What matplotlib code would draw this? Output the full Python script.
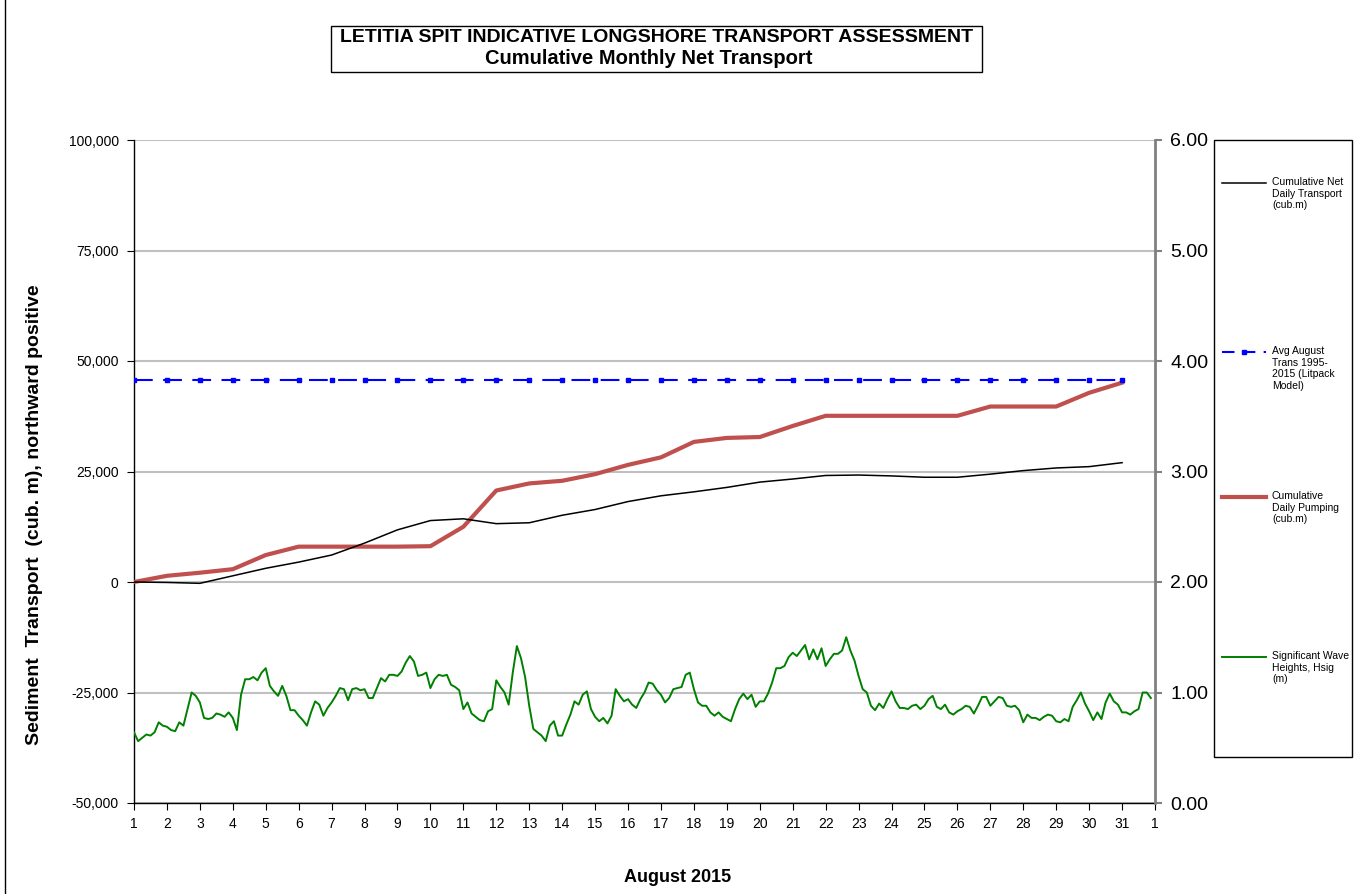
import numpy as np
import matplotlib
matplotlib.use("Agg")
import matplotlib.pyplot as plt
from matplotlib.patches import Rectangle
from matplotlib.ticker import FuncFormatter

plt.rcParams['font.family'] = ['Liberation Sans', 'DejaVu Sans']

# daily values, 1..31 August 2015
days = list(range(1, 32))
net_transport = [0, -100, -300, 1400, 3100, 4500, 6100, 8800, 11800, 13900,
                 14300, 13200, 13400, 15100, 16400, 18200, 19500, 20400, 21400, 22600,
                 23300, 24100, 24200, 24000, 23700, 23700, 24400, 25200, 25800, 26100,
                 27000]
pumping = [0, 1400, 2100, 2900, 6100, 8000, 8000, 8000, 8000, 8100,
           12500, 20700, 22300, 22900, 24400, 26500, 28200, 31700, 32600, 32800,
           35300, 37600, 37600, 37600, 37600, 37600, 39700, 39700, 39700, 42800,
           45100]
avg_august = [45700] * 31

# significant wave height (m), 3-hourly from 1 Aug 00:00
hsig_step_hours = 3
hsig = [0.64, 0.56, 0.59, 0.62, 0.61, 0.64, 0.73, 0.70, 0.69, 0.66,
        0.65, 0.73, 0.70, 0.85, 1.00, 0.97, 0.91, 0.77, 0.76, 0.77,
        0.81, 0.80, 0.78, 0.82, 0.77, 0.66, 0.98, 1.12, 1.12, 1.14,
        1.11, 1.18, 1.22, 1.06, 1.01, 0.97, 1.06, 0.97, 0.84, 0.84,
        0.79, 0.75, 0.70, 0.82, 0.92, 0.89, 0.79, 0.86, 0.91, 0.97,
        1.04, 1.03, 0.93, 1.03, 1.04, 1.02, 1.03, 0.95, 0.95, 1.04,
        1.13, 1.10, 1.16, 1.16, 1.15, 1.19, 1.27, 1.33, 1.28, 1.15,
        1.16, 1.18, 1.04, 1.12, 1.16, 1.15, 1.16, 1.07, 1.05, 1.02,
        0.85, 0.91, 0.81, 0.78, 0.75, 0.74, 0.83, 0.85, 1.11, 1.05,
        1.00, 0.89, 1.18, 1.42, 1.31, 1.14, 0.88, 0.67, 0.64, 0.61,
        0.56, 0.70, 0.74, 0.61, 0.61, 0.71, 0.80, 0.92, 0.89, 0.98,
        1.01, 0.85, 0.78, 0.74, 0.77, 0.72, 0.79, 1.03, 0.97, 0.92,
        0.94, 0.89, 0.86, 0.94, 1.00, 1.09, 1.08, 1.02, 0.98, 0.91,
        0.95, 1.03, 1.04, 1.05, 1.16, 1.18, 1.03, 0.91, 0.88, 0.88,
        0.82, 0.79, 0.82, 0.78, 0.76, 0.74, 0.85, 0.94, 0.99, 0.94,
        0.98, 0.87, 0.92, 0.92, 0.99, 1.09, 1.22, 1.22, 1.24, 1.32,
        1.36, 1.33, 1.38, 1.43, 1.30, 1.39, 1.30, 1.40, 1.24, 1.30,
        1.35, 1.35, 1.38, 1.50, 1.38, 1.29, 1.15, 1.03, 1.00, 0.88,
        0.84, 0.90, 0.86, 0.94, 1.01, 0.92, 0.86, 0.86, 0.85, 0.88,
        0.89, 0.85, 0.88, 0.94, 0.97, 0.87, 0.85, 0.89, 0.82, 0.80,
        0.83, 0.85, 0.88, 0.87, 0.81, 0.88, 0.96, 0.96, 0.88, 0.92,
        0.96, 0.95, 0.88, 0.87, 0.88, 0.84, 0.73, 0.80, 0.77, 0.77,
        0.75, 0.78, 0.80, 0.79, 0.74, 0.73, 0.76, 0.74, 0.87, 0.93,
        1.00, 0.90, 0.83, 0.75, 0.82, 0.76, 0.91, 0.99, 0.92, 0.89,
        0.82, 0.82, 0.80, 0.83, 0.85, 1.00, 1.00, 0.95]

x_labels = [str(d) for d in range(1, 32)] + ['1']
legend_labels = ['Cumulative Net\nDaily Transport\n(cub.m)',
                 'Avg August\nTrans 1995-\n2015 (Litpack\nModel)',
                 'Cumulative\nDaily Pumping\n(cub.m)',
                 'Significant Wave\nHeights, Hsig\n(m)']

W, H = 1358, 894
fig = plt.figure(figsize=(W / 100, H / 100), dpi=100)
ax = fig.add_axes([134 / W, 1 - 803 / H, (1155 - 134) / W, (803 - 140) / H])
ax2 = ax.twinx()

red = '#c0504d'
green = '#008000'
ax.plot(days, pumping, color=red, lw=3, zorder=3)
ax.plot(days, net_transport, color='black', lw=1.1, zorder=4)
ax.plot(days, avg_august, color='blue', lw=1.5, dashes=(9, 5), marker='s', ms=3.2, zorder=5)
t_hsig = 1 + np.arange(len(hsig)) * hsig_step_hours / 24
ax2.plot(t_hsig, hsig, color=green, lw=1.4)

ax.set_xlim(1, 32)
ax.set_ylim(-50000, 100000)
ax2.set_ylim(0, 6)
ax.set_yticks(np.arange(-50000, 100001, 25000))
ax.yaxis.set_major_formatter(FuncFormatter(lambda v, p: f'{v:,.0f}'))
ax2.set_yticks(np.arange(0, 7))
ax2.yaxis.set_major_formatter(FuncFormatter(lambda v, p: f'{v:.2f}'))
ax.set_xticks(range(1, 33))
ax.set_xticklabels(x_labels)

ax.grid(axis='y', color='#c0c0c0', lw=1.5)
ax.set_axisbelow(True)
for a in (ax, ax2):
    a.spines['top'].set_visible(False)
ax.spines['right'].set_visible(False)
ax2.spines['left'].set_visible(False)
ax2.spines['bottom'].set_visible(False)
ax2.spines['right'].set_color('#808080')
ax2.spines['right'].set_linewidth(2)
ax.spines['left'].set_linewidth(1)
ax.spines['bottom'].set_linewidth(1)

ax.tick_params(axis='y', direction='out', length=5, labelsize=10, pad=6)
ax.tick_params(axis='x', direction='out', length=5, labelsize=10, pad=5)
ax2.tick_params(axis='y', direction='out', length=5, color='#808080', width=1.5,
                labelsize=14, pad=6)

# overlay in pixel coordinates for titles, legend and frame
ov = fig.add_axes([0, 0, 1, 1], zorder=-1)
ov.set_xlim(0, W)
ov.set_ylim(H, 0)
ov.axis('off')

ov.plot([5, 5], [0, H], color='black', lw=1)
ov.add_patch(Rectangle((331, 26), 651, 46, fill=False, ec='black', lw=1))
ov.text(657, 38, 'LETITIA SPIT INDICATIVE LONGSHORE TRANSPORT ASSESSMENT',
        ha='center', va='center', fontsize=14, fontweight='bold')
ov.text(649, 59, 'Cumulative Monthly Net Transport',
        ha='center', va='center', fontsize=14.5, fontweight='bold')

ov.text(35, 515, 'Sediment  Transport  (cub. m), northward positive', rotation=90,
        ha='center', va='center', fontsize=14, fontweight='bold')
ov.text(678, 878, 'August 2015', ha='center', va='center', fontsize=13, fontweight='bold')

ov.add_patch(Rectangle((1214, 140), 138, 617, fill=False, ec='black', lw=1))
leg_y = [183, 352, 497, 657]
ov.plot([1222, 1266], [leg_y[0]] * 2, color='black', lw=1.1)
ov.plot([1222, 1266], [leg_y[1]] * 2, color='blue', lw=1.5, dashes=(6, 4))
ov.plot([1244], [leg_y[1]], color='blue', marker='s', ms=3.2)
ov.plot([1222, 1266], [leg_y[2]] * 2, color=red, lw=3)
ov.plot([1222, 1266], [leg_y[3]] * 2, color=green, lw=1.4)
for y, lab in zip(leg_y, legend_labels):
    ov.text(1272, y - 6, lab, ha='left', va='top', fontsize=7.5, linespacing=1.2)

fig.savefig('out.png', dpi=100)
